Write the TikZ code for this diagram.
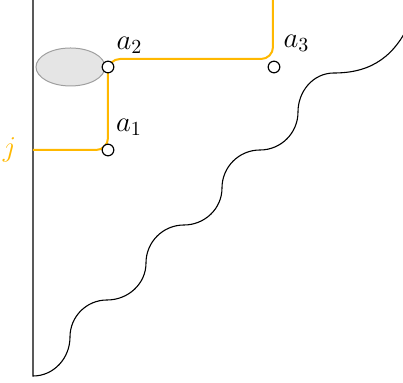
\documentclass[tikz,border=0pt]{standalone}
\usepackage{tikz}
\usetikzlibrary{shapes.geometric}
\definecolor{orng}{RGB}{255,184,0}
\begin{document}
\begin{tikzpicture}[x=0.5pt,y=-0.5pt,
  pnt/.style={circle,draw=black,fill=white,line width=0.6pt,inner sep=0pt,minimum size=5.8pt},
  lbl/.style={font=\fontsize{14}{16}\selectfont,inner sep=0pt},
  wire/.style={draw=orng,line width=1pt,rounded corners=6pt},
  edge/.style={draw=black,line width=0.55pt}]
\useasboundingbox (0,0) rectangle (403,383);
\clip (0,0) rectangle (403,383);
% boundary
\coordinate (b0) at (33,0);
\coordinate (b1) at (33,376);
\draw[edge] (b0) -- (b1) to[out=0,in=-90] (70,337) to[out=90,in=180] (107,300)
  to[out=0,in=-90] (146,263) to[out=90,in=180] (184,225)
  to[out=0,in=-90] (222,188) to[out=90,in=180] (260,150)
  to[out=0,in=-90] (298,112) to[out=90,in=180] (334,73)
  .. controls (372,73) and (396,56) .. (412,18);
% blob
\node[ellipse,draw=gray!75,fill=gray!20,line width=0.5pt,inner sep=0pt,minimum width=34.5pt,minimum height=19pt] (e) at (70.5,67) {};
% orange path
\coordinate (j) at (33,150);
\coordinate (c1) at (108,150);
\coordinate (c2) at (108,59);
\coordinate (c3) at (273,59);
\coordinate (top) at (273,0);
\draw[wire] (j) -- (c1) -- (c2) -- (c3) -- (top);
% points
\node[pnt] (a1) at (108,150) {};
\node[pnt] (a2) at (108,67) {};
\node[pnt] (a3) at (274,67) {};
% labels
\node[lbl] (la1) at (129,127) {$a_1$};
\node[lbl] (la2) at (129.5,45) {$a_2$};
\node[lbl] (la3) at (296.5,43) {$a_3$};
\node[lbl,text=orng] (lj) at (9.5,150) {$j$};
\end{tikzpicture}
\end{document}
